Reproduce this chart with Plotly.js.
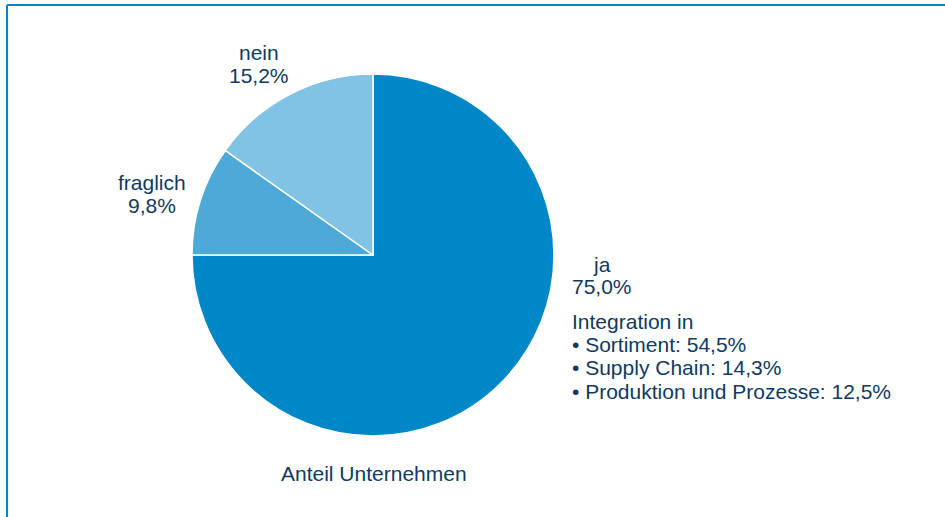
<!DOCTYPE html>
<html>
<head>
<meta charset="utf-8">
<script src="https://cdn.plot.ly/plotly-3.0.1.min.js"></script>
<style>html,body{margin:0;padding:0;background:#fff;}#chart{width:945px;height:517px;}</style>
</head>
<body>
<div id="chart"></div>
<script>
const categories = ["ja", "fraglich", "nein"];
const values = [75.0, 9.8, 15.2];
const sliceColors = ["#0087C7", "#4DAAD6", "#80C3E4"];
const integrationTitle = "Integration in";
const integrationItems = ["Sortiment", "Supply Chain", "Produktion und Prozesse"];
const integrationValues = [54.5, 14.3, 12.5];
const chartTitle = "Anteil Unternehmen";

const fmt = v => v.toFixed(1).replace(".", ",") + "%";
const textColor = "#0F3A62";
const font = {family: "Liberation Sans, Arial, sans-serif", size: 21, color: textColor};

const W = 945, H = 517;
const px = x => x / W;
const py = y => 1 - y / H;

// label line centres (pixels) for each category: [x, yName, yValue]
const labelPos = {
  "ja": [602, 264.5, 286.5],
  "fraglich": [152, 182, 205],
  "nein": [259, 53, 75]
};

function ann(text, x, y, xanchor) {
  return {
    text: text, x: px(x), y: py(y), xref: "paper", yref: "paper",
    xanchor: xanchor || "center", yanchor: "middle",
    showarrow: false, font: font, align: xanchor === "left" ? "left" : "center"
  };
}

const annotations = [];
categories.forEach((c, i) => {
  const p = labelPos[c];
  annotations.push(ann(c, p[0], p[1]));
  annotations.push(ann(fmt(values[i]), p[0], p[2]));
});
const infoLines = [integrationTitle].concat(
  integrationItems.map((it, i) => "• " + it + ": " + fmt(integrationValues[i])));
const infoY = [321, 344.3, 367.6, 391];
infoLines.forEach((t, i) => annotations.push(ann(t, 570, infoY[i], "left")));
annotations.push(ann(chartTitle, 374, 473.5));

const data = [{
  type: "pie",
  labels: categories,
  values: values,
  sort: false,
  direction: "clockwise",
  rotation: 0,
  textinfo: "none",
  hoverinfo: "label+percent",
  marker: {colors: sliceColors, line: {color: "#ffffff", width: 1.5}},
  domain: {x: [px(373 - 181), px(373 + 181)], y: [py(436), py(74)]},
  showlegend: false
}];

const layout = {
  width: W, height: H,
  margin: {l: 0, r: 0, t: 0, b: 0},
  paper_bgcolor: "#ffffff",
  showlegend: false,
  annotations: annotations,
  shapes: [
    {type: "line", xref: "paper", yref: "paper", x0: px(7), x1: 1, y0: py(5), y1: py(5), line: {color: "#0087C7", width: 2}},
    {type: "line", xref: "paper", yref: "paper", x0: px(7), x1: px(7), y0: py(5), y1: 0, line: {color: "#0087C7", width: 2}}
  ]
};

Plotly.newPlot("chart", data, layout, {displayModeBar: false, staticPlot: true});
</script>
</body>
</html>
